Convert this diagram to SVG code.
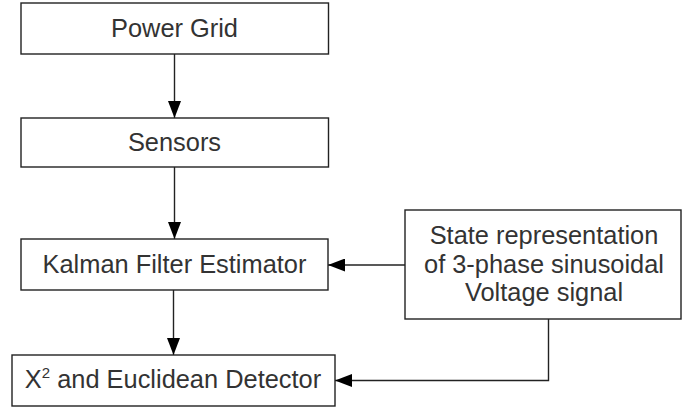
<svg xmlns="http://www.w3.org/2000/svg" width="682" height="410" viewBox="0 0 682 410">
<style>
.box{fill:#fff;stroke:#222;stroke-width:1.4}
.t{font-family:"Liberation Sans",Arial,sans-serif;font-size:25.4px;fill:#333;text-anchor:middle}
.c{fill:none;stroke:#222;stroke-width:1.4}
</style>
<defs>
<marker id="ah" markerUnits="userSpaceOnUse" markerWidth="18" markerHeight="13" refX="17" refY="6.5" orient="auto">
<path d="M0,0 L17,6.5 L0,13 Z" fill="#000"/>
</marker>
</defs>
<rect width="682" height="410" fill="#fff"/>
<g id="connectors">
<path class="c" d="M174.5,54 V118" marker-end="url(#ah)"/>
<path class="c" d="M174.5,167 V239" marker-end="url(#ah)"/>
<path class="c" d="M173.5,290 V355" marker-end="url(#ah)"/>
<path class="c" d="M405,265 H328" marker-end="url(#ah)"/>
<path class="c" d="M548.5,319 V380.5 H335" marker-end="url(#ah)"/>
</g>
<g id="power-grid">
<rect class="box" x="21" y="3" width="307.5" height="51"/>
<text class="t" x="174.5" y="37">Power Grid</text>
</g>
<g id="sensors">
<rect class="box" x="21" y="118" width="307.5" height="49"/>
<text class="t" x="174.5" y="151">Sensors</text>
</g>
<g id="kalman">
<rect class="box" x="21" y="239" width="307" height="51"/>
<text class="t" x="174.5" y="273">Kalman Filter Estimator</text>
</g>
<g id="detector">
<rect class="box" x="12" y="355" width="323" height="51"/>
<text class="t" x="173" y="388">X<tspan font-size="15" dy="-10">2</tspan><tspan dy="10"> and Euclidean Detector</tspan></text>
</g>
<g id="state">
<rect class="box" x="405" y="210" width="276" height="109"/>
<text class="t" x="544" y="244">State representation</text>
<text class="t" x="544" y="273">of 3-phase sinusoidal</text>
<text class="t" x="544" y="301">Voltage signal</text>
</g>
</svg>
